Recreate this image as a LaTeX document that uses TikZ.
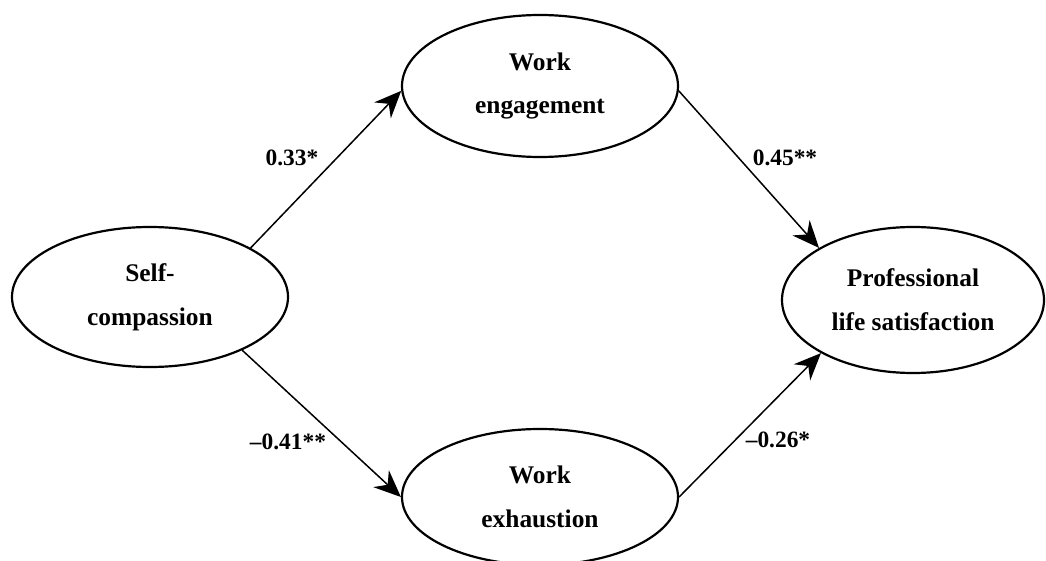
\documentclass[tikz,border=0pt]{standalone}
\usepackage{fontspec}
\setmainfont{Liberation Serif}
\usetikzlibrary{arrows.meta,shapes.geometric}
\begin{document}
\begin{tikzpicture}[x=1bp,y=-1bp,
  latent/.style={draw,line width=2.2bp,ellipse,inner sep=0pt,align=center,
    font=\fontsize{25.5}{44}\selectfont\bfseries},
  path/.style={line width=1.5bp,-{Stealth[length=27bp,width=23bp,inset=9bp]}},
  coef/.style={font=\fontsize{23.5}{26}\selectfont\bfseries}]
\useasboundingbox (0,0) rectangle (1046,561);
\node[latent,minimum width=276bp,minimum height=140bp] (sc) at (150,297) {Self-\\compassion};
\node[latent,minimum width=276bp,minimum height=142bp] (we) at (540,86) {Work\\engagement};
\node[latent,minimum width=276bp,minimum height=136bp] (wx) at (540,497) {Work\\exhaustion};
\node[latent,minimum width=262bp,minimum height=146bp] (pls) at (913,300) {Professional\\life satisfaction};
\draw[path] (sc.26) -- (we.182);
\draw[path] (sc.-30) -- (wx.west);
\draw[path] (we.-2) -- (pls.151);
\draw[path] (wx.east) -- (pls.210);
\node[coef] (c1) at (292,158) {0.33*};
\node[coef] (c2) at (288,442) {\textendash0.41**};
\node[coef] (c3) at (785,158) {0.45**};
\node[coef] (c4) at (778,440) {\textendash0.26*};
\end{tikzpicture}
\end{document}
